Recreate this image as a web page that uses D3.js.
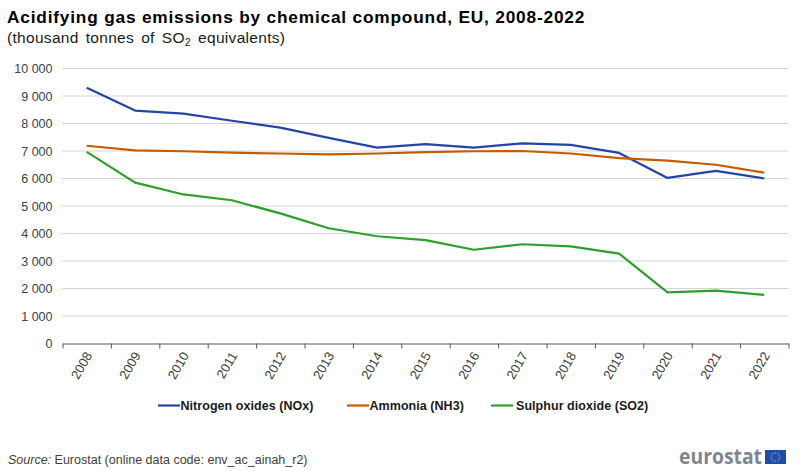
<!DOCTYPE html>
<html>
<head>
<meta charset="utf-8">
<script src="https://cdn.jsdelivr.net/npm/d3@7"></script>
<style>
html, body { margin: 0; padding: 0; background: #fff; }
text { font-family: "Liberation Sans", Arial, sans-serif; }
</style>
</head>
<body>
<svg id="chart" width="800" height="471"></svg>
<script>
const years = ["2008","2009","2010","2011","2012","2013","2014","2015","2016","2017","2018","2019","2020","2021","2022"];
const nox = [9300,8470,8360,8100,7850,7480,7120,7250,7120,7280,7220,6930,6020,6280,6000];
const nh3 = [7190,7020,6990,6940,6910,6880,6910,6960,6990,7000,6910,6740,6650,6500,6210];
const so2 = [6970,5850,5420,5210,4730,4190,3900,3760,3410,3610,3530,3270,1860,1920,1770];
const yTicks = [0,1000,2000,3000,4000,5000,6000,7000,8000,9000,10000];
const seriesNames = ["Nitrogen oxides (NOx)","Ammonia (NH3)","Sulphur dioxide (SO2)"];
const seriesColors = ["#2644a7","#c85a00","#2ca02c"];
const seriesValues = [nox, nh3, so2];

const svg = d3.select("#chart");
const x = d3.scaleBand().domain(years).range([62.5, 788.5]);
const y = d3.scaleLinear().domain([0, 10000]).range([343.5, 68.5]);
const fmt = v => d3.format(",")(v).replace(",", " ");

// title
svg.append("text").attr("x", 7).attr("y", 23)
    .attr("font-size", 17.3).attr("font-weight", "bold").attr("fill", "#000")
    .attr("letter-spacing", 0.8)
    .text("Acidifying gas emissions by chemical compound, EU, 2008-2022");
const sub = svg.append("text").attr("x", 7).attr("y", 43)
    .attr("font-size", 15.5).attr("fill", "#1a1a1a")
    .attr("word-spacing", 2.5).attr("letter-spacing", 0.3);
sub.append("tspan").text("(thousand tonnes of SO");
sub.append("tspan").attr("font-size", 10.5).attr("dy", 3).text("2");
sub.append("tspan").attr("dy", -3).text(" equivalents)");

// gridlines
svg.append("g").selectAll("line")
    .data(yTicks.filter(d => d > 0))
    .enter().append("line")
    .attr("x1", 62.5).attr("x2", 788.5)
    .attr("y1", d => y(d)).attr("y2", d => y(d))
    .attr("stroke", "#a8a8a8").attr("stroke-width", 1).attr("stroke-dasharray", "1 1");

// y axis labels
const yAxis = svg.append("g").attr("transform", "translate(62.5,0)")
    .call(d3.axisLeft(y).tickValues(yTicks).tickSize(0).tickPadding(10).tickFormat(fmt));
yAxis.select(".domain").remove();
yAxis.selectAll("text").attr("font-size", 12.5).attr("fill", "#404040")
    .style("font-family", '"Liberation Sans", Arial, sans-serif');

// x axis
const xAxisScale = d3.scalePoint().domain(years.concat("end")).range([62.5, 788.5]);
const xAxis = svg.append("g").attr("transform", "translate(0,343.5)")
    .call(d3.axisBottom(xAxisScale).tickSizeOuter(0).tickSizeInner(5).tickFormat(""));
xAxis.select(".domain").attr("stroke", "#595959").attr("stroke-width", 1);
xAxis.selectAll("line").attr("stroke", "#595959");
svg.append("g").selectAll("text")
    .data(years)
    .enter().append("text")
    .attr("transform", d => `translate(${x(d) + x.bandwidth() / 2 + 2},353) rotate(-60)`)
    .attr("text-anchor", "end").attr("dy", "0.35em")
    .attr("font-size", 13).attr("fill", "#404040")
    .text(d => d);

// lines
const line = d3.line()
    .x((d, i) => x(years[i]) + x.bandwidth() / 2)
    .y(d => y(d));
svg.append("g").selectAll("path")
    .data(seriesValues)
    .enter().append("path")
    .attr("d", line).attr("fill", "none")
    .attr("stroke", (d, i) => seriesColors[i])
    .attr("stroke-width", 2.2).attr("stroke-linejoin", "round");

// legend
const legendX = [158, 347, 491];
const legendGap = [22.5, 22.5, 25];
const legend = svg.append("g").selectAll("g")
    .data(seriesNames)
    .enter().append("g")
    .attr("transform", (d, i) => `translate(${legendX[i]},405.5)`);
legend.append("line").attr("x1", 0).attr("x2", 22)
    .attr("stroke", (d, i) => seriesColors[i]).attr("stroke-width", 2.2);
legend.append("text").attr("x", (d, i) => legendGap[i]).attr("y", 4.5)
    .attr("font-size", 12.5).attr("font-weight", "bold").attr("fill", "#1a1a1a")
    .attr("letter-spacing", 0.05)
    .text(d => d);

// source
const src = svg.append("text").attr("x", 8).attr("y", 464)
    .attr("font-size", 12.5).attr("fill", "#404040");
src.append("tspan").attr("font-style", "italic").text("Source:");
src.append("tspan").text(" Eurostat (online data code: env_ac_ainah_r2)");

// eurostat logo
svg.append("text").attr("x", 679).attr("y", 464)
    .attr("font-size", 20.5).attr("font-weight", "bold").attr("fill", "#7f8590")
    .attr("textLength", 83).attr("lengthAdjust", "spacingAndGlyphs")
    .style("font-family", '"Open Sans", sans-serif')
    .text("eurostat");
svg.append("rect").attr("x", 765).attr("y", 450).attr("width", 21).attr("height", 14).attr("fill", "#1f4ea8");
svg.append("g").selectAll("circle")
    .data(d3.range(12))
    .enter().append("circle")
    .attr("cx", d => 775.5 + 4.3 * Math.cos(d * Math.PI / 6))
    .attr("cy", d => 457 + 4.3 * Math.sin(d * Math.PI / 6))
    .attr("r", 0.55).attr("fill", "#f5d90a");
</script>
</body>
</html>
